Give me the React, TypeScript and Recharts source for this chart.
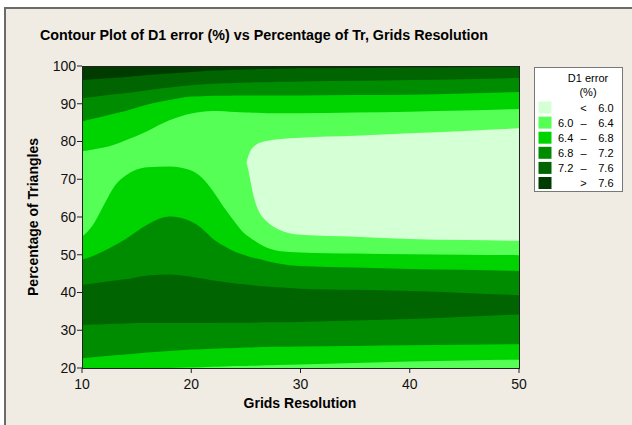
import React from 'react';
import { AreaChart, Area, XAxis, YAxis } from 'recharts';

// grid resolution samples (x) where the contour boundaries were read
const gridRes = [10, 11, 12, 13, 14, 16, 18, 20, 21, 22, 23, 24, 25, 25.2, 25.4, 25.7, 26, 27, 28, 30, 35, 40, 45, 50];

// contour boundaries (Percentage of Triangles), bottom to top
const sliverTop = [20, 20, 20, 20, 20, 20, 20, 20.1, 20.2, 20.3, 20.4, 20.5, 20.55, 20.56, 20.58, 20.6, 20.62, 20.7, 20.8, 20.95, 21.35, 21.75, 22.0, 22.2];
const lowBand68 = [22.6, 22.85, 23.1, 23.35, 23.6, 24.1, 24.5, 24.9, 25.0, 25.1, 25.2, 25.3, 25.4, 25.4, 25.42, 25.45, 25.5, 25.55, 25.6, 25.7, 25.85, 26.0, 26.15, 26.3];
const darkLow = [31.4, 31.5, 31.6, 31.7, 31.8, 31.9, 31.9, 31.9, 31.9, 31.95, 32.0, 32.0, 32.0, 32.0, 32.0, 32.0, 32.05, 32.1, 32.1, 32.2, 32.6, 33.0, 33.6, 34.2];
const darkHigh = [42.0, 42.4, 42.8, 43.2, 43.5, 44.5, 44.8, 44.2, 43.7, 43.2, 42.8, 42.4, 42.1, 42.05, 42.0, 41.9, 41.8, 41.6, 41.4, 41.0, 40.7, 40.4, 39.9, 39.3];
const midBand72 = [48.7, 49.7, 51.0, 52.5, 54.2, 58.0, 60.1, 58.8, 56.9, 54.2, 52.3, 50.8, 49.8, 49.6, 49.4, 49.2, 49.0, 48.3, 47.7, 47.0, 46.6, 46.2, 46.0, 45.7];
const bulgeTop = [54.8, 57.9, 63.2, 68.3, 71.0, 73.2, 73.4, 72.3, 70.3, 66.8, 62.5, 58.6, 55.3, 54.9, 54.5, 53.9, 53.3, 51.8, 51.0, 50.6, 50.3, 50.1, 50.0, 49.9];
const blobLow = [74.5, 74.5, 74.5, 74.5, 74.5, 74.5, 74.5, 74.5, 74.5, 74.5, 74.5, 74.5, 74.5, 72.8, 69.8, 65.6, 62.8, 58.6, 56.7, 55.3, 54.8, 54.2, 53.9, 53.7];
const blobHigh = [74.0, 74.0, 74.0, 74.0, 74.0, 74.0, 74.0, 74.0, 74.0, 74.0, 74.0, 74.0, 74.0, 76.0, 77.4, 78.6, 79.3, 80.2, 80.6, 81.0, 81.5, 82.2, 82.8, 83.5];
const upBand64 = [77.4, 77.9, 78.4, 79.2, 80.3, 82.8, 85.6, 87.4, 87.9, 88.1, 88.0, 87.8, 87.7, 87.7, 87.7, 87.6, 87.6, 87.5, 87.5, 87.5, 87.7, 87.9, 88.2, 88.6];
const upBand68 = [85.3, 86.0, 86.7, 87.4, 88.1, 89.8, 91.0, 91.9, 92.0, 92.1, 92.1, 92.2, 92.2, 92.2, 92.2, 92.2, 92.2, 92.2, 92.2, 92.2, 92.3, 92.4, 92.7, 93.1];
const upBand72 = [91.5, 91.8, 92.2, 92.5, 92.8, 93.6, 94.3, 94.9, 95.1, 95.3, 95.4, 95.5, 95.6, 95.6, 95.6, 95.7, 95.7, 95.7, 95.8, 95.9, 96.1, 96.3, 96.5, 96.8];
const upBand76 = [96.3, 96.5, 96.7, 96.9, 97.1, 97.6, 98.0, 98.4, 98.6, 98.8, 98.9, 99.0, 99.1, 99.1, 99.1, 99.1, 99.2, 99.2, 99.3, 99.4, 99.5, 99.6, 99.7, 99.8];

const bandColors = ['#D5FFD5', '#55FF55', '#00D400', '#008C00', '#006400', '#003C00'];
const bandLow = ['', '6.0', '6.4', '6.8', '7.2', ''];
const bandSym = ['<', '–', '–', '–', '–', '>'];
const bandHigh = ['6.0', '6.4', '6.8', '7.2', '7.6', '7.6'];

const xTicks = [10, 20, 30, 40, 50];
const yTicks = [20, 30, 40, 50, 60, 70, 80, 90, 100];

// painted top first; each fills down to 20 with the band lying under that boundary
const layers = [
  { key: 'upBand76', band: 4 },
  { key: 'upBand72', band: 3 },
  { key: 'upBand68', band: 2 },
  { key: 'upBand64', band: 1 },
  { key: 'blobHigh', band: 0 },
  { key: 'blobLow', band: 1 },
  { key: 'bulgeTop', band: 2 },
  { key: 'midBand72', band: 3 },
  { key: 'darkHigh', band: 4 },
  { key: 'darkLow', band: 3 },
  { key: 'lowBand68', band: 2 },
  { key: 'sliverTop', band: 1 },
];

const data = gridRes.map((x, i) => ({
  x,
  sliverTop: sliverTop[i],
  lowBand68: lowBand68[i],
  darkLow: darkLow[i],
  darkHigh: darkHigh[i],
  midBand72: midBand72[i],
  bulgeTop: bulgeTop[i],
  blobLow: blobLow[i],
  blobHigh: blobHigh[i],
  upBand64: upBand64[i],
  upBand68: upBand68[i],
  upBand72: upBand72[i],
  upBand76: upBand76[i],
}));

const font = '"Liberation Sans", Arial, sans-serif';
const W = 632;
const H = 425;
const plot = { left: 82, top: 66, width: 437, height: 302 };

export default function App() {
  return (
    <div style={{ position: 'absolute', left: 0, top: 0, width: W, height: H, background: '#fff', overflow: 'hidden', fontFamily: font }}>
      <div style={{ position: 'absolute', left: 4, top: 7, width: W, height: H, background: '#F0ECE3', borderTop: '2px solid #6b6b6b', borderLeft: '2px solid #6b6b6b' }} />
      <div style={{ position: 'absolute', left: plot.left, top: plot.top, width: plot.width, height: plot.height, background: bandColors[5] }} />
      <div style={{ position: 'absolute', left: 0, top: 0 }}>
        <AreaChart width={W} height={H} data={data} margin={{ top: 66, right: 113, bottom: 27, left: 22 }}>
          <XAxis
            dataKey="x"
            type="number"
            domain={[10, 50]}
            ticks={xTicks}
            allowDataOverflow
            height={30}
            axisLine={false}
            tickLine={{ stroke: '#222' }}
            tickSize={5}
            tickMargin={6}
            tick={{ fill: '#111', fontSize: 14, fontFamily: font }}
          />
          <YAxis
            type="number"
            domain={[20, 100]}
            ticks={yTicks}
            allowDataOverflow
            width={60}
            axisLine={false}
            tickLine={{ stroke: '#222' }}
            tickSize={5}
            tickMargin={1}
            tick={{ fill: '#111', fontSize: 14, fontFamily: font }}
          />
          {layers.map((l) => (
            <Area
              key={l.key}
              type="monotone"
              dataKey={l.key}
              baseValue={20}
              stroke="none"
              fill={bandColors[l.band]}
              fillOpacity={1}
              dot={false}
              activeDot={false}
              isAnimationActive={false}
            />
          ))}
        </AreaChart>
      </div>
      <svg width={W} height={H} style={{ position: 'absolute', left: 0, top: 0, pointerEvents: 'none' }}>
        <rect x={plot.left + 0.5} y={plot.top + 0.5} width={plot.width} height={plot.height} fill="none" stroke="#222" strokeWidth={1} />
        <text x={264} y={40} textAnchor="middle" fontSize={14.3} fontWeight="bold" fill="#000" fontFamily={font}>
          Contour Plot of D1 error (%) vs Percentage of Tr, Grids Resolution
        </text>
        <text x={300} y={408} textAnchor="middle" fontSize={14} fontWeight="bold" fill="#000" fontFamily={font}>
          Grids Resolution
        </text>
        <text x={0} y={0} transform="translate(38,217) rotate(-90)" textAnchor="middle" fontSize={14} fontWeight="bold" fill="#000" fontFamily={font}>
          Percentage of Triangles
        </text>
        <rect x={534.5} y={67.5} width={88} height={124} fill="#fff" stroke="#777" />
        <text x={588} y={81.5} textAnchor="middle" fontSize={11} fill="#000" fontFamily={font}>D1 error</text>
        <text x={588} y={96} textAnchor="middle" fontSize={11} fill="#000" fontFamily={font}>(%)</text>
        {bandColors.map((c, i) => {
          const cy = 107.5 + i * 15.1;
          return (
            <g key={c}>
              <rect x={538.5} y={cy - 6} width={13} height={12} fill={c} />
              <text x={558} y={cy + 4} fontSize={11} fill="#000" fontFamily={font}>{bandLow[i]}</text>
              <text x={583.5} y={cy + 4} textAnchor="middle" fontSize={11} fill="#000" fontFamily={font}>{bandSym[i]}</text>
              <text x={613.5} y={cy + 4} textAnchor="end" fontSize={11} fill="#000" fontFamily={font}>{bandHigh[i]}</text>
            </g>
          );
        })}
      </svg>
    </div>
  );
}
